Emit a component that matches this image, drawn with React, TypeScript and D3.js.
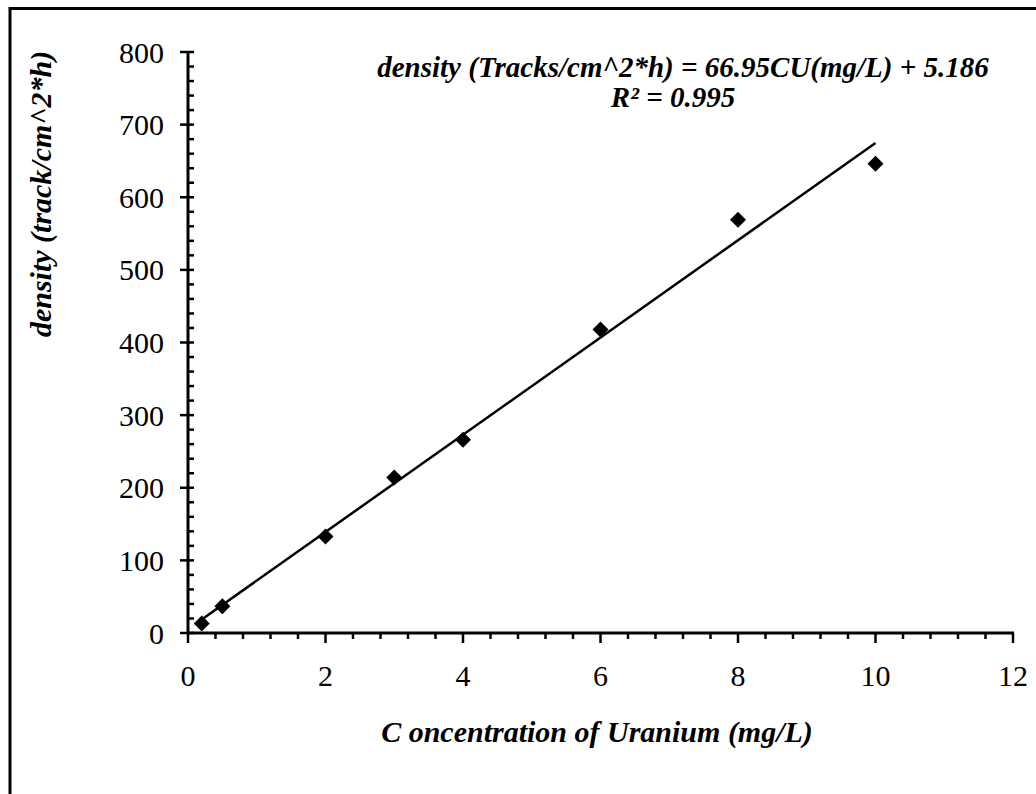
import React, { useEffect, useRef } from "react";
import * as d3 from "d3";

const concentration = [0.2, 0.5, 2, 3, 4, 6, 8, 10];
const density = [13, 37, 133, 214, 266, 418, 569, 646];
const fitSlope = 66.95;
const fitIntercept = 5.186;
const xTicks = [0, 2, 4, 6, 8, 10, 12];
const yTicks = [0, 100, 200, 300, 400, 500, 600, 700, 800];
const equationText = "density (Tracks/cm^2*h) = 66.95CU(mg/L) + 5.186";
const r2Text = "R² = 0.995";
const xTitle = "C oncentration of Uranium (mg/L)";
const yTitle = "density (track/cm^2*h)";

const width = 1036;
const height = 794;
const serif = "'Liberation Serif', 'Times New Roman', serif";

const App = () => {
  const svgRef = useRef(null);

  useEffect(() => {
    const svg = d3.select(svgRef.current);
    svg.selectAll("*").remove();

    const x = d3.scaleLinear().domain([0, 12]).range([188, 1013]);
    const y = d3.scaleLinear().domain([0, 800]).range([633, 52]);

    // outer frame (runs off the picture at right and bottom)
    svg
      .append("rect")
      .attr("x", 10)
      .attr("y", 8.5)
      .attr("width", 1100)
      .attr("height", 900)
      .attr("fill", "white")
      .attr("stroke", "#000")
      .attr("stroke-width", 3);

    const g = svg.append("g");

    // minor ticks
    const yMinor = d3.range(0, 801, 20).filter((v) => v % 100 !== 0);
    g.selectAll(".ymin")
      .data(yMinor)
      .enter()
      .append("line")
      .attr("x1", x(0))
      .attr("x2", x(0) + 6)
      .attr("y1", (d) => y(d))
      .attr("y2", (d) => y(d))
      .attr("stroke", "#000")
      .attr("stroke-width", 2.5);

    const xMinor = d3.range(0, 61).map((i) => i * 0.2).filter((v, i) => i % 2 === 0 && i % 10 !== 0);
    g.selectAll(".xmin")
      .data(xMinor)
      .enter()
      .append("line")
      .attr("x1", (d) => x(d))
      .attr("x2", (d) => x(d))
      .attr("y1", y(0))
      .attr("y2", y(0) + 6)
      .attr("stroke", "#000")
      .attr("stroke-width", 2.5);

    // major ticks
    g.selectAll(".ymaj")
      .data(yTicks)
      .enter()
      .append("line")
      .attr("x1", x(0) - 8)
      .attr("x2", x(0) + 6)
      .attr("y1", (d) => y(d))
      .attr("y2", (d) => y(d))
      .attr("stroke", "#000")
      .attr("stroke-width", 2.5);

    g.selectAll(".xmaj")
      .data(xTicks)
      .enter()
      .append("line")
      .attr("x1", (d) => x(d))
      .attr("x2", (d) => x(d))
      .attr("y1", y(0))
      .attr("y2", y(0) + 10)
      .attr("stroke", "#000")
      .attr("stroke-width", 2.5);

    // axis lines
    g.append("line")
      .attr("x1", x(0))
      .attr("x2", x(0))
      .attr("y1", y(0) + 1)
      .attr("y2", y(800) - 1)
      .attr("stroke", "#000")
      .attr("stroke-width", 3);
    g.append("line")
      .attr("x1", x(0) - 1)
      .attr("x2", x(12) + 1)
      .attr("y1", y(0))
      .attr("y2", y(0))
      .attr("stroke", "#000")
      .attr("stroke-width", 3);

    // tick labels
    g.selectAll(".ylab")
      .data(yTicks)
      .enter()
      .append("text")
      .attr("x", 164)
      .attr("y", (d) => y(d))
      .attr("dy", "0.35em")
      .attr("text-anchor", "end")
      .style("font-family", serif)
      .style("font-size", "30px")
      .text((d) => d);

    g.selectAll(".xlab")
      .data(xTicks)
      .enter()
      .append("text")
      .attr("x", (d) => x(d))
      .attr("y", 686)
      .attr("text-anchor", "middle")
      .style("font-family", serif)
      .style("font-size", "30px")
      .text((d) => d);

    // trend line
    const x0 = d3.min(concentration);
    const x1 = d3.max(concentration);
    g.append("line")
      .attr("x1", x(x0))
      .attr("y1", y(fitSlope * x0 + fitIntercept))
      .attr("x2", x(x1))
      .attr("y2", y(fitSlope * x1 + fitIntercept))
      .attr("stroke", "#000")
      .attr("stroke-width", 2.5);

    // points
    const diamond = d3.symbol(d3.symbolSquare, 128);
    g.selectAll(".pt")
      .data(concentration.map((c, i) => [c, density[i]]))
      .enter()
      .append("path")
      .attr("d", diamond)
      .attr("transform", (d) => `translate(${x(d[0])},${y(d[1])}) rotate(45)`)
      .attr("fill", "#000");

    const boldItalic = (sel, size) =>
      sel
        .style("font-family", serif)
        .style("font-size", size)
        .style("font-weight", "bold")
        .style("font-style", "italic");

    // equation
    svg
      .append("text")
      .attr("x", 683)
      .attr("y", 77)
      .attr("text-anchor", "middle")
      .call(boldItalic, "29px")
      .text(equationText);
    svg
      .append("text")
      .attr("x", 673)
      .attr("y", 107)
      .attr("text-anchor", "middle")
      .call(boldItalic, "29px")
      .text(r2Text);

    // axis titles
    svg
      .append("text")
      .attr("x", 597)
      .attr("y", 742)
      .attr("text-anchor", "middle")
      .call(boldItalic, "30px")
      .text(xTitle);
    svg
      .append("text")
      .attr("transform", "translate(51,194) rotate(-90)")
      .attr("text-anchor", "middle")
      .call(boldItalic, "30px")
      .text(yTitle);
  }, []);

  return (
    <svg
      ref={svgRef}
      width={width}
      height={height}
      style={{ position: "absolute", left: 0, top: 0, display: "block", background: "white" }}
    ></svg>
  );
};

export default App;
